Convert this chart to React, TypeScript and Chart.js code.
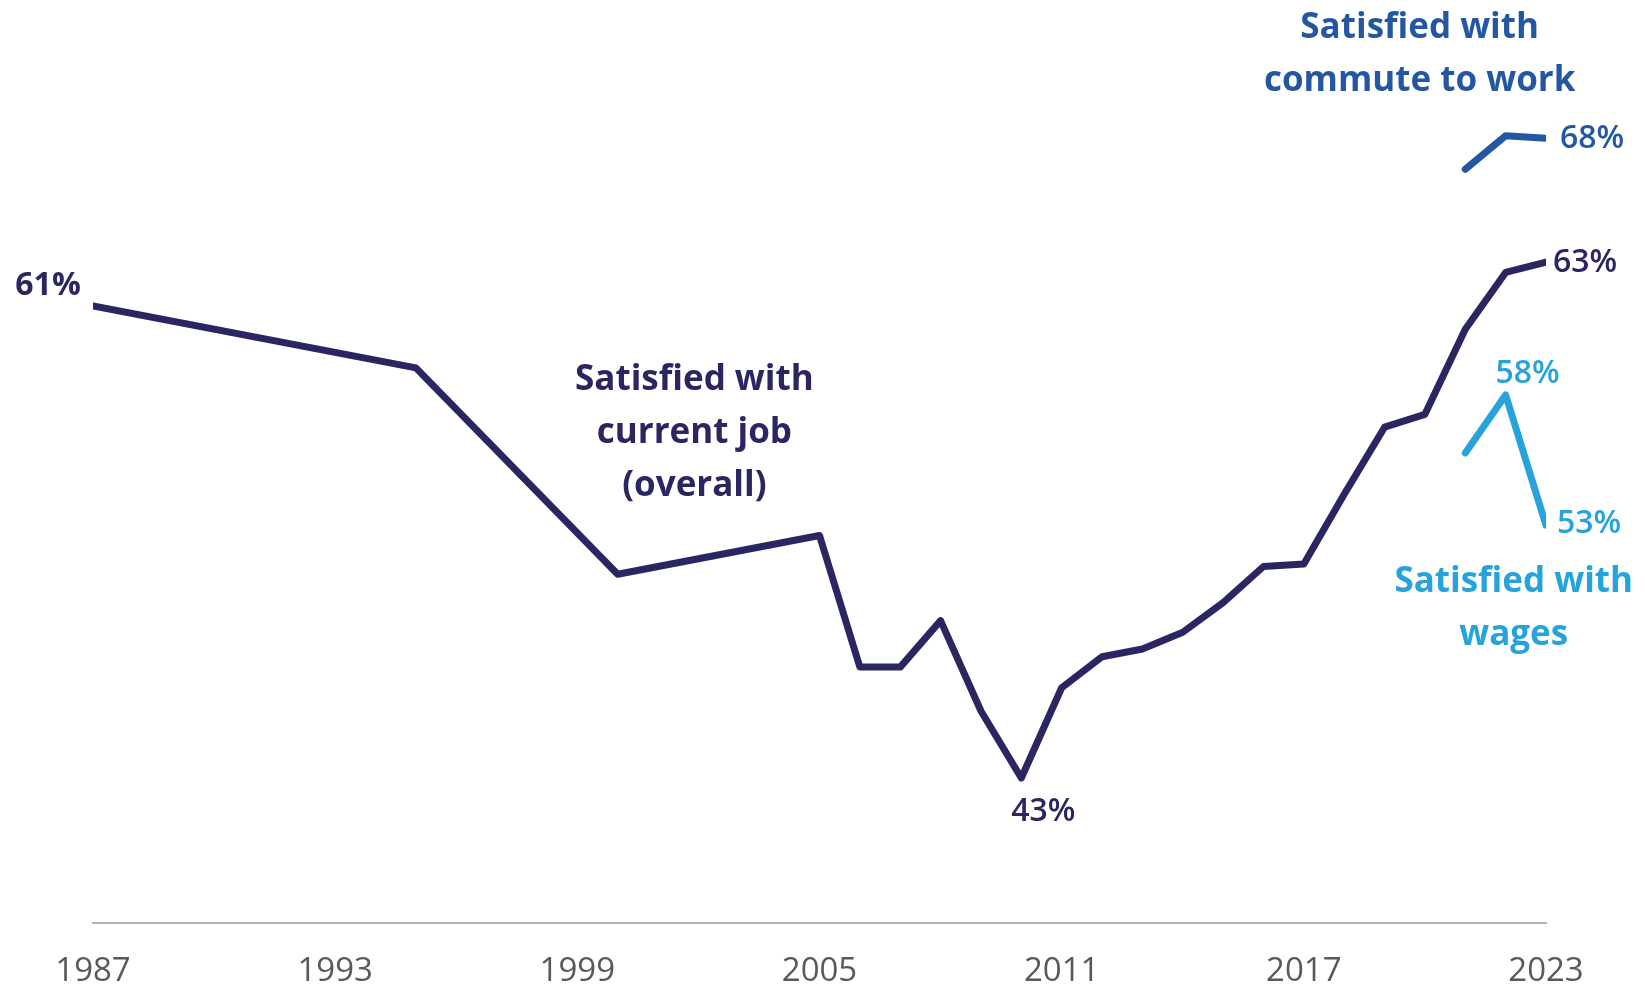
import { useEffect, useRef } from "react";
import { Chart, registerables } from "chart.js";
import type { Plugin } from "chart.js";

Chart.register(...registerables);

// years on the axis
const xTicks = [1987, 1993, 1999, 2005, 2011, 2017, 2023];

// Satisfied with current job (overall)
const jobYears = [1987, 1995, 2000, 2005, 2006, 2007, 2008, 2009, 2010, 2011, 2012, 2013, 2014, 2015, 2016, 2017, 2018, 2019, 2020, 2021, 2022, 2023];
const jobValues = [61.3, 58.9, 50.9, 52.4, 47.3, 47.3, 49.1, 45.6, 43.0, 46.5, 47.7, 48.0, 48.65, 49.8, 51.2, 51.3, 54.0, 56.6, 57.1, 60.4, 62.6, 63.0];

// Satisfied with commute to work
const commuteYears = [2021, 2022, 2023];
const commuteValues = [66.6, 67.9, 67.8];

// Satisfied with wages
const wageYears = [2021, 2022, 2023];
const wageValues = [55.6, 57.85, 52.8];

const NAVY = "#2a2661";
const BLUE = "#2457a2";
const SKY = "#27a3db";
const FONT = "'Open Sans', 'Noto Sans', sans-serif";

const toPoints = (xs: number[], ys: number[]) => xs.map((x, i) => ({ x, y: ys[i] }));

// value labels, anchored on a data point
const pointLabels = [
	{ text: "61%", x: 1987, y: 61.3, dx: -45, dy: -20, align: "center", color: NAVY, weight: 700 },
	{ text: "43%", x: 2010, y: 43.0, dx: 22, dy: 34, align: "center", color: NAVY, weight: 600 },
	{ text: "63%", x: 2023, y: 63.0, dx: 7, dy: 1, align: "left", color: NAVY, weight: 600 },
	{ text: "68%", x: 2023, y: 67.8, dx: 14, dy: 1, align: "left", color: BLUE, weight: 600 },
	{ text: "58%", x: 2022, y: 57.85, dx: 22, dy: -21, align: "center", color: SKY, weight: 600 },
	{ text: "53%", x: 2023, y: 52.8, dx: 11, dy: -1, align: "left", color: SKY, weight: 600 },
];

// series names, first baseline placed in data coordinates
const seriesLabels = [
	{ lines: ["Satisfied with", "current job", "(overall)"], x: 2001.9, y: 58.04, color: NAVY },
	{ lines: ["Satisfied with", "commute to work"], x: 2019.87, y: 71.68, color: BLUE },
	{ lines: ["Satisfied with", "wages"], x: 2022.2, y: 50.2, color: SKY },
];

const annotations: Plugin<"line"> = {
	id: "annotations",
	afterDatasetsDraw(chart) {
		const { ctx, scales } = chart;
		const xs = scales.x;
		const ys = scales.y;
		ctx.save();
		ctx.textBaseline = "middle";
		for (const l of pointLabels) {
			ctx.font = `${l.weight} 32px ${FONT}`;
			ctx.fillStyle = l.color;
			ctx.textAlign = l.align as CanvasTextAlign;
			ctx.fillText(l.text, xs.getPixelForValue(l.x) + l.dx, ys.getPixelForValue(l.y) + l.dy);
		}
		ctx.textBaseline = "alphabetic";
		ctx.textAlign = "center";
		ctx.font = `700 35px ${FONT}`;
		for (const s of seriesLabels) {
			ctx.fillStyle = s.color;
			const px = xs.getPixelForValue(s.x);
			const py = ys.getPixelForValue(s.y);
			s.lines.forEach((line, i) => ctx.fillText(line, px, py + i * 53));
		}
		ctx.restore();
	},
};

export default function App() {
	const canvasRef = useRef<HTMLCanvasElement | null>(null);

	useEffect(() => {
		if (!canvasRef.current) {
			return;
		}

		const lineStyle = {
			borderWidth: 7,
			pointRadius: 0,
			tension: 0,
			borderCapStyle: "round" as const,
			borderJoinStyle: "round" as const,
			fill: false,
		};

		const chart = new Chart(canvasRef.current, {
			type: "line",
			data: {
				datasets: [
					{ label: "Satisfied with current job (overall)", data: toPoints(jobYears, jobValues), borderColor: NAVY, ...lineStyle },
					{ label: "Satisfied with commute to work", data: toPoints(commuteYears, commuteValues), borderColor: BLUE, ...lineStyle },
					{ label: "Satisfied with wages", data: toPoints(wageYears, wageValues), borderColor: SKY, ...lineStyle },
				],
			},
			options: {
				responsive: true,
				maintainAspectRatio: false,
				animation: false,
				layout: { padding: { left: 93, right: 100, top: 0, bottom: 0 } },
				plugins: {
					legend: { display: false },
					tooltip: { enabled: false },
				},
				scales: {
					x: {
						type: "linear",
						min: 1987,
						max: 2023,
						afterBuildTicks: (scale) => {
							scale.ticks = xTicks.map((value) => ({ value }));
						},
						afterFit: (scale) => {
							scale.height = 64;
						},
						grid: { display: false, drawTicks: false },
						border: { display: true, color: "#b4b4b4", width: 2 },
						ticks: {
							autoSkip: false,
							maxRotation: 0,
							padding: 29,
							color: "#595959",
							font: { family: FONT, size: 33 },
							callback: (value) => String(value),
						},
					},
					y: {
						display: false,
						min: 37.38,
						max: 73.16,
					},
				},
			},
			plugins: [annotations],
		});

		return () => {
			chart.destroy();
		};
	}, []);

	return (
		<div style={{ position: "fixed", left: 0, top: 0, width: 1646, height: 987, background: "#ffffff" }}>
			<canvas ref={canvasRef} aria-label="Job satisfaction chart" />
		</div>
	);
}
